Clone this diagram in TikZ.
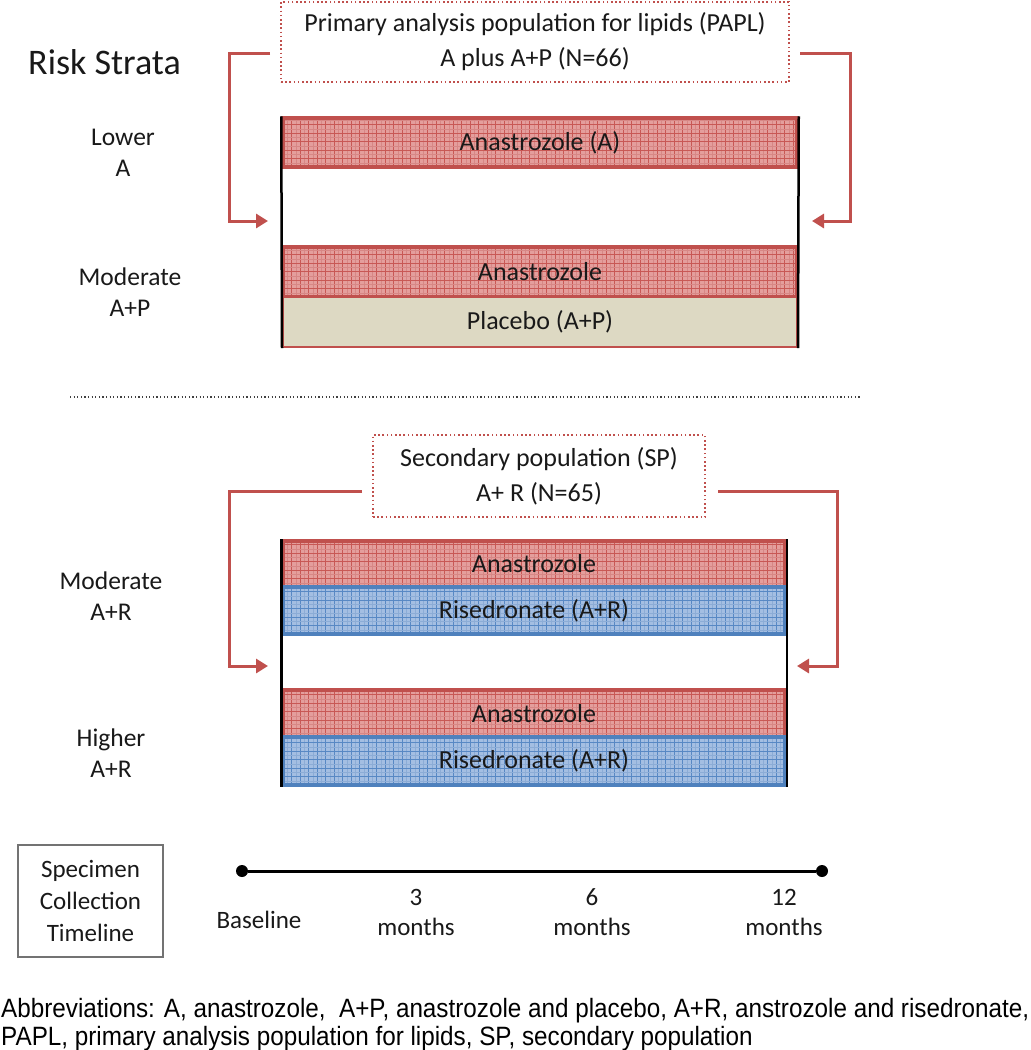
\documentclass[tikz,border=0pt]{standalone}
\usepackage{fontspec}
\setmainfont{Carlito}
\newfontfamily\abbrfont{Liberation Sans}
\usetikzlibrary{arrows.meta}
\definecolor{barred}{RGB}{192,80,77}
\definecolor{redfill}{RGB}{228,158,156}
\definecolor{redgrid}{RGB}{200,88,85}
\definecolor{redfine}{RGB}{215,135,133}
\definecolor{barblue}{RGB}{79,129,189}
\definecolor{bluefill}{RGB}{164,190,226}
\definecolor{bluegrid}{RGB}{88,136,196}
\definecolor{bluefine}{RGB}{140,172,214}
\definecolor{beige}{RGB}{221,217,195}
\definecolor{txt}{RGB}{25,25,25}
\newcommand\bargrid[2]{%
  \foreach \k in {0,...,62}{%
    \draw[#2, line width=0.5pt] ([xshift=\k*8.5pt+4.25pt]path picture bounding box.south west) -- ([xshift=\k*8.5pt+4.25pt]path picture bounding box.north west);
    \draw[#1, line width=0.9pt] ([xshift=\k*8.5pt]path picture bounding box.south west) -- ([xshift=\k*8.5pt]path picture bounding box.north west);}
  \foreach \k in {0,...,6}{%
    \draw[#2, line width=0.5pt] ([yshift=\k*8.5pt+4.25pt]path picture bounding box.south west) -- ([yshift=\k*8.5pt+4.25pt]path picture bounding box.south east);
    \draw[#1, line width=0.9pt] ([yshift=\k*8.5pt]path picture bounding box.south west) -- ([yshift=\k*8.5pt]path picture bounding box.south east);}}
\tikzset{
  body/.style={font=\fontsize{25.5}{31}\selectfont, text=txt, align=center, inner sep=0pt},
  barbase/.style={inner sep=0pt, font=\fontsize{26}{30}\selectfont, text=txt},
  redbar/.style={barbase, draw=barred, line width=3.5pt, fill=redfill, path picture={\bargrid{redgrid}{redfine}}},
  bluebar/.style={barbase, draw=barblue, line width=3.5pt, fill=bluefill, path picture={\bargrid{bluegrid}{bluefine}}},
  pbobar/.style={barbase, draw=barred, line width=2pt, fill=beige},
  edgeline/.style={draw=black, line width=2.5pt},
  popbox/.style={draw=barred, line width=1.8pt, dash pattern=on 1.6pt off 2.6pt, align=center, inner sep=0pt, font=\fontsize{26}{35}\selectfont, text=txt},
  bracket/.style={draw=barred, line width=3pt, -{Triangle[length=12pt,width=14pt]}},
  sepline/.style={draw=black!75, line width=1.3pt, dash pattern=on 1.2pt off 2.4pt},
  tdot/.style={circle, fill=black, inner sep=0pt, minimum size=12pt},
  tlabel/.style={font=\fontsize{25}{30}\selectfont, text=txt, align=center, inner sep=0pt},
}
\begin{document}
\begin{tikzpicture}[x=1pt,y=-1pt]
\useasboundingbox (0,0) rectangle (1031,1050);
\fill[white] (0,0) rectangle (1031,1050);

% title
\node[font=\fontsize{36}{40}\selectfont, text=txt, inner sep=0pt] (title) at (104.5,62) {Risk Strata};

% stratum labels
\node[body] (lower) at (123,153) {Lower\\A};
\node[body] (modp) at (130,292) {Moderate\\A+P};
\node[body] (modr) at (111,596) {Moderate\\A+R};
\node[body] (high) at (111,753) {Higher\\A+R};

% top population box
\node[popbox, minimum width=508pt, minimum height=80pt] (papl) at (535,42) {Primary analysis population for lipids (PAPL)\\A plus A+P (N=66)};

% top bars
\node[redbar, minimum width=514pt, minimum height=49pt] (barA) at (540,142.5) {Anastrozole (A)};
\node[redbar, minimum width=514pt, minimum height=50pt] (barAP) at (540,272) {Anastrozole};
\node[pbobar, minimum width=514pt, minimum height=50pt] (barP) at (540,322) {Placebo (A+P)};
\draw[edgeline] (barA.north west) -- (barP.south west);
\draw[edgeline] (barA.north east) -- (barP.south east);

% top brackets
\coordinate (pl1) at (270,53);
\coordinate (pr1) at (800,53);
\coordinate (al1) at (268,221);
\coordinate (ar1) at (812,221);
\draw[bracket] (pl1) -- (229,53) |- (al1);
\draw[bracket] (pr1) -- (850,53) |- (ar1);

% separator
\coordinate (s1) at (70,397);
\coordinate (s2) at (860,397);
\draw[sepline] (s1) -- (s2);

% secondary population box
\node[popbox, minimum width=332pt, minimum height=82pt] (sp) at (539,476) {Secondary population (SP)\\A+ R (N=65)};

% bottom bars
\node[redbar, minimum width=502pt, minimum height=46pt] (barA3) at (534,564) {Anastrozole};
\node[bluebar, minimum width=502pt, minimum height=47pt] (barR3) at (534,610.5) {Risedronate (A+R)};
\node[redbar, minimum width=502pt, minimum height=47pt] (barA4) at (534,713.5) {Anastrozole};
\node[bluebar, minimum width=502pt, minimum height=48pt] (barR4) at (534,761) {Risedronate (A+R)};
\draw[edgeline] (barA3.north west) -- (barR4.south west);
\draw[edgeline] (barA3.north east) -- (barR4.south east);

% bottom brackets
\coordinate (pl2) at (362,491);
\coordinate (pr2) at (718,491);
\coordinate (al2) at (268,666);
\coordinate (ar2) at (797,666);
\draw[bracket] (pl2) -- (229,491) |- (al2);
\draw[bracket] (pr2) -- (837,491) |- (ar2);

% timeline
\node[draw=black!55, line width=1.5pt, minimum width=145pt, minimum height=112pt, align=center, inner sep=0pt, font=\fontsize{25}{32}\selectfont, text=txt] (spec) at (90.5,901) {Specimen\\Collection\\Timeline};
\node[tdot] (t0) at (242,871) {};
\node[tdot] (t1) at (822,871) {};
\draw[line width=3pt] (t0) -- (t1);
\node[tlabel] (base) at (259,920) {Baseline};
\node[tlabel] (m3) at (416,912) {3\\months};
\node[tlabel] (m6) at (592,912) {6\\months};
\node[tlabel] (m12) at (784,912) {12\\months};

% abbreviations
\node[anchor=base west, inner sep=0pt, text=black] (abbr) at (1,1017) {\resizebox{1028pt}{\height}{\abbrfont\fontsize{26.5}{28}\selectfont\begin{tabular}[t]{@{}l@{}}Abbreviations: A, anastrozole,\ \ A+P, anastrozole and placebo, A+R, anstrozole and risedronate,\\PAPL, primary analysis population for lipids, SP, secondary population\end{tabular}}};
\end{tikzpicture}
\end{document}
